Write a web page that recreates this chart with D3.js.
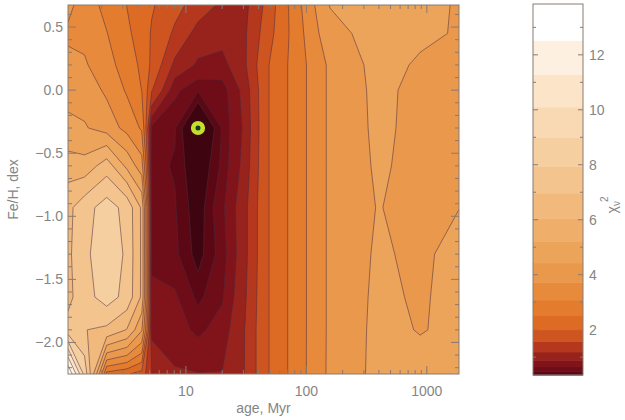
<!DOCTYPE html>
<html><head><meta charset="utf-8">
<script src="https://cdn.jsdelivr.net/npm/d3@7"></script>
<style>
body{margin:0;background:#fff}
text{font-family:"Liberation Sans",Arial,sans-serif;fill:#858585}
</style>
</head><body>
<svg id="c" width="625" height="420"></svg>
<script>
// ---- data ----
const ages = [1.05, 1.44, 2.2, 3.24, 4.3, 5.2, 8.1, 12.6, 20, 31, 48, 80, 157, 387, 880, 1850]; // Myr, grid columns
const feh  = [0.675, 0.45, 0.2, 0.0, -0.3, -0.6, -0.93, -1.3, -1.64, -1.9, -2.25];          // dex, grid rows
// reduced chi^2 per Fe/H row (columns follow `ages`)
const chi2_p0675 = [3.9, 3.4, 2.9, 2.5, 2.25, 2.05, 1.7, 1.4, 1.12, 1.1, 1.7, 2.75, 4.46, 4.75, 4.7, 4.35];
const chi2_p045  = [3.6, 3.55, 3.1, 2.6, 2.3, 1.95, 1.5, 1.05, 1.0, 1.15, 1.8, 2.7, 4.18, 4.72, 4.55, 4.38];
const chi2_p020  = [3.9, 3.8, 3.3, 2.8, 2.4, 1.9, 1.1, 0.85, 0.8, 1.15, 1.97, 2.7, 3.84, 4.66, 4.35, 4.38];
const chi2_p000  = [4.2, 4.1, 3.6, 3.0, 2.5, 1.6, 0.7, 0.5, 0.55, 1.0, 1.97, 2.7, 3.84, 4.6, 4.25, 4.4];
const chi2_m030  = [4.6, 4.5, 4.1, 3.5, 3.0, 0.6, 0.5, 0.12, 0.5, 0.95, 1.97, 2.7, 3.84, 4.57, 4.25, 4.4];
const chi2_m060  = [5.6, 5.5, 6.5, 5.0, 4.0, 0.52, 0.48, 0.25, 0.52, 1.0, 1.97, 2.7, 3.84, 4.52, 4.25, 4.35];
const chi2_m093  = [6.72, 7.54, 8.4, 7.6, 5.9, 0.55, 0.5, 0.3, 0.6, 1.1, 1.97, 2.7, 3.84, 4.45, 4.3, 4.42];
const chi2_m130  = [6.8, 7.6, 8.9, 7.7, 5.9, 0.6, 0.52, 0.33, 0.55, 1.1, 1.97, 2.7, 3.84, 4.52, 4.3, 4.65];
const chi2_m164  = [6.72, 7.54, 8.4, 7.6, 5.9, 0.7, 0.68, 0.45, 0.62, 1.15, 1.97, 2.7, 3.84, 4.57, 4.35, 4.65];
const chi2_m190  = [7.3, 7.0, 6.76, 6.0, 4.5, 0.8, 0.75, 0.6, 0.75, 1.2, 1.97, 2.7, 3.84, 4.6, 4.4, 4.55];
const chi2_m225  = [13.8, 8.6, 2.3, 2.05, 1.8, 1.2, 0.92, 0.9, 0.9, 1.2, 1.97, 2.7, 3.85, 4.62, 4.65, 4.6];
const levels = [0.35, 0.38, 0.49, 0.65, 0.89, 1.19, 1.57, 2.0, 2.51, 3.08, 3.72, 4.43, 5.21, 6.05, 6.97, 7.94, 8.99, 10.1, 11.29, 12.53, 13.85];
const bestAge = 12.6, bestFeH = -0.3;
const xTickVals = [10, 100, 1000];
const yTickVals = [0.5, 0.0, -0.5, -1.0, -1.5, -2.0];
const cbTickVals = [2, 4, 6, 8, 10, 12];

// ---- styles ----
const bandColors = ["#3e0510","#5c0814","#6e0c17","#80141a","#98221c","#b5381e","#cf5520","#de6b24","#e47c2e","#e78a3c",
                    "#ea984c","#eca35a","#efae6a","#f1b97c","#f4c48e","#f6cfa0","#f8d9b4","#fbe4c8","#fdf0e0","#ffffff"];
const frameColor = "#8a7a70";

const grid = [chi2_p0675, chi2_p045, chi2_p020, chi2_p000, chi2_m030, chi2_m060, chi2_m093, chi2_m130, chi2_m164, chi2_m190, chi2_m225];
const n = ages.length, m = feh.length;
const values = grid.flat();

const P = {l:68, r:459, t:5, b:374};
const CB = {l:533, r:583, t:4, b:375};
const svg = d3.select("#c");

const x = d3.scaleLog().domain([1.05, 1850]).range([P.l, P.r]);
const y = d3.scaleLinear().domain([-2.25, 0.675]).range([P.b, P.t]);
const gx = d3.scaleLinear().domain(d3.range(n).map(i => i + 0.5)).range(ages.map(a => Math.log10(a))).clamp(true);
const gy = d3.scaleLinear().domain(d3.range(m).map(j => j + 0.5)).range(feh).clamp(true);
const px = u => x(Math.pow(10, gx(u)));
const py = v => y(gy(v));
const proj = d3.geoTransform({point(a, b){ this.stream.point(px(a), py(b)); }});
const path = d3.geoPath(proj);

const thresholds = levels.slice(1, levels.length - 1);
const contours = d3.contours().size([n, m]).thresholds(thresholds)(values);

svg.append("defs").append("clipPath").attr("id", "pc").append("rect")
  .attr("x", P.l).attr("y", P.t).attr("width", P.r - P.l).attr("height", P.b - P.t);
const g = svg.append("g").attr("clip-path", "url(#pc)");
g.append("rect").attr("x", P.l).attr("y", P.t).attr("width", P.r - P.l).attr("height", P.b - P.t)
  .attr("fill", bandColors[0]);
g.selectAll("path.band").data(contours).join("path").attr("class", "band")
  .attr("d", path).attr("fill", (d, i) => bandColors[i + 1]);

// contour lines (without the grid border)
const segs = [];
contours.forEach(c => c.coordinates.forEach(poly => poly.forEach(ring => {
  let cur = [];
  for (let k = 0; k < ring.length - 1; k++) {
    const p = ring[k], q = ring[k + 1];
    const edge = (p[0] <= 0.5 && q[0] <= 0.5) || (p[0] >= n - 0.5 && q[0] >= n - 0.5) ||
                 (p[1] <= 0.5 && q[1] <= 0.5) || (p[1] >= m - 0.5 && q[1] >= m - 0.5);
    if (edge) { if (cur.length > 1) segs.push(cur); cur = []; }
    else { if (cur.length === 0) cur.push(p); cur.push(q); }
  }
  if (cur.length > 1) segs.push(cur);
})));
const lineGen = d3.line().x(p => px(p[0])).y(p => py(p[1]));
g.selectAll("path.cl").data(segs).join("path").attr("class", "cl")
  .attr("d", lineGen).attr("fill", "none").attr("stroke", "#4a2b40")
  .attr("stroke-width", 0.75).attr("stroke-opacity", 0.7);

// best-fit marker
g.append("circle").attr("cx", x(bestAge)).attr("cy", y(bestFeH)).attr("r", 4.8)
  .attr("fill", "#1d3a28").attr("stroke", "#c4e02c").attr("stroke-width", 4.6);

// frame + ticks
svg.append("rect").attr("x", P.l).attr("y", P.t).attr("width", P.r - P.l).attr("height", P.b - P.t)
  .attr("fill", "none").attr("stroke", frameColor).attr("stroke-width", 1);
const tk = svg.append("g").attr("stroke", frameColor).attr("stroke-width", 1);
const minorX = [];
for (let dec = 1; dec <= 1000; dec *= 10) for (let k = 2; k <= 9; k++) { const v = k * dec; if (v > 1.05 && v < 1850) minorX.push(v); }
minorX.forEach(v => {
  tk.append("line").attr("x1", x(v)).attr("x2", x(v)).attr("y1", P.b).attr("y2", P.b - 4);
  tk.append("line").attr("x1", x(v)).attr("x2", x(v)).attr("y1", P.t).attr("y2", P.t + 4);
});
xTickVals.forEach(v => {
  tk.append("line").attr("x1", x(v)).attr("x2", x(v)).attr("y1", P.b).attr("y2", P.b - 8);
  tk.append("line").attr("x1", x(v)).attr("x2", x(v)).attr("y1", P.t).attr("y2", P.t + 8);
});
d3.range(-22, 7).map(k => k / 10).forEach(v => {
  const major = Math.abs(v * 2 - Math.round(v * 2)) < 1e-6;
  const L = major ? 8 : 4;
  tk.append("line").attr("x1", P.l).attr("x2", P.l + L).attr("y1", y(v)).attr("y2", y(v));
  tk.append("line").attr("x1", P.r).attr("x2", P.r - L).attr("y1", y(v)).attr("y2", y(v));
});

const fmtY = v => (v < 0 ? "\u2212" : "") + Math.abs(v).toFixed(1);
svg.append("g").selectAll("text").data(yTickVals).join("text")
  .attr("x", 63).attr("y", v => y(v) + 5).attr("text-anchor", "end").attr("font-size", 14).text(fmtY);
svg.append("g").selectAll("text").data(xTickVals).join("text")
  .attr("x", v => x(v)).attr("y", 396).attr("text-anchor", "middle").attr("font-size", 14).text(d => d);
svg.append("text").attr("x", (P.l + P.r) / 2).attr("y", 413).attr("text-anchor", "middle")
  .attr("font-size", 14).text("age, Myr");
svg.append("text").attr("transform", `translate(18,${(P.t + P.b) / 2}) rotate(-90)`)
  .attr("text-anchor", "middle").attr("font-size", 14).text("Fe/H, dex");

// colorbar
const cy = d3.scaleLinear().domain([levels[0], levels[levels.length - 1]]).range([CB.b, CB.t]);
svg.append("g").selectAll("rect").data(d3.range(levels.length - 1)).join("rect")
  .attr("x", CB.l).attr("width", CB.r - CB.l)
  .attr("y", i => cy(levels[i + 1])).attr("height", i => cy(levels[i]) - cy(levels[i + 1]) + 0.5)
  .attr("fill", i => bandColors[i]);
svg.append("rect").attr("x", CB.l).attr("y", CB.t).attr("width", CB.r - CB.l).attr("height", CB.b - CB.t)
  .attr("fill", "none").attr("stroke", frameColor).attr("stroke-width", 1);
const ctk = svg.append("g").attr("stroke", frameColor).attr("stroke-width", 1);
d3.range(1, 14).forEach(v => {
  const L = v % 2 === 0 ? 5 : 3;
  ctk.append("line").attr("x1", CB.l).attr("x2", CB.l + L).attr("y1", cy(v)).attr("y2", cy(v));
  ctk.append("line").attr("x1", CB.r).attr("x2", CB.r - L).attr("y1", cy(v)).attr("y2", cy(v));
});
svg.append("g").selectAll("text").data(cbTickVals).join("text")
  .attr("x", 589).attr("y", v => cy(v) + 5).attr("font-size", 14).text(d => d);
const lab = svg.append("text").attr("transform", "translate(617,205) rotate(-90)")
  .attr("text-anchor", "middle").attr("font-size", 14);
lab.append("tspan").text("\u03c7");
lab.append("tspan").attr("font-size", 10).attr("dy", 3).text("\u03bd");
lab.append("tspan").attr("font-size", 10).attr("dy", -12).attr("dx", -1).text("2");
</script>
</body></html>
